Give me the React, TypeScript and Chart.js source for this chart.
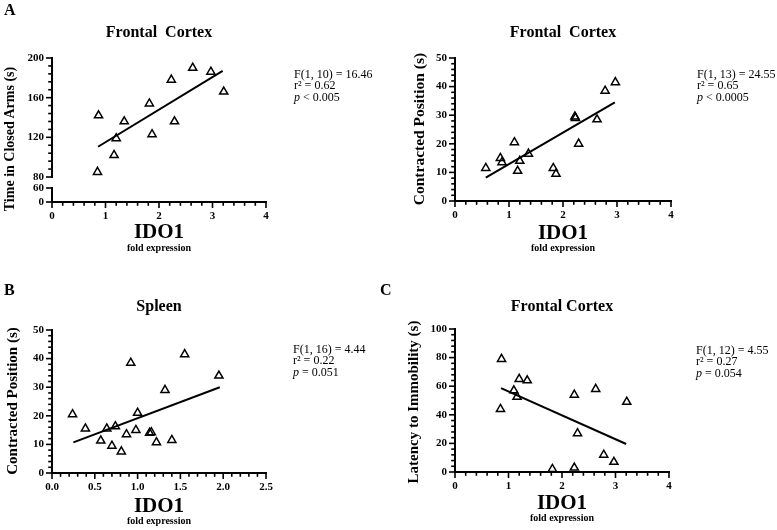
import React, { useEffect, useRef } from "react";
import { Chart, registerables } from "chart.js";

Chart.register(...registerables);

const SERIF = "'Liberation Serif', 'Times New Roman', Times, serif";

// ---------- Panel A (left): Frontal Cortex – Time in Closed Arms ----------
const closedArmsIdo1 = [0.85, 0.87, 1.2, 1.16, 1.35, 1.82, 1.87, 2.23, 2.29, 2.63, 2.97, 3.21];
const closedArmsTime = [85, 142, 119, 102, 136, 154, 123, 178, 136, 190, 186, 166];
const closedArmsFitX = [0.86, 3.19];
const closedArmsFitY = [110.5, 187];
const closedArmsStats = ["F(1, 10) = 16.46", "0.62", "< 0.005"];

// ---------- Panel A (right): Frontal Cortex – Contracted Position ----------
const contractedFcIdo1 = [0.57, 0.84, 0.87, 1.1, 1.16, 1.2, 1.36, 1.82, 1.87, 2.22, 2.23, 2.29, 2.63, 2.78, 2.97];
const contractedFcTime = [11.5, 15, 13.5, 20.5, 10.5, 14, 16.5, 11.5, 9.5, 29.5, 29, 20, 28.5, 38.5, 41.5];
const contractedFcFitX = [0.57, 2.96];
const contractedFcFitY = [8.2, 34.5];
const contractedFcStats = ["F(1, 13) = 24.55", "0.65", "< 0.0005"];

// ---------- Panel B: Spleen – Contracted Position ----------
const spleenIdo1 = [0.24, 0.39, 0.57, 0.64, 0.7, 0.74, 0.81, 0.87, 0.92, 0.98, 1.0, 1.14, 1.16, 1.22, 1.32, 1.4, 1.55, 1.95];
const spleenTime = [20.5, 15.5, 11.3, 15.5, 9.5, 16.3, 7.5, 13.5, 38.5, 15, 21, 14, 14.2, 10.7, 29, 11.5, 41.5, 34];
const spleenFitX = [0.25, 1.96];
const spleenFitY = [10.7, 30];
const spleenStats = ["F(1, 16) = 4.44", "0.22", "= 0.051"];

// ---------- Panel C: Frontal Cortex – Latency to Immobility ----------
const latencyIdo1 = [0.85, 0.87, 1.1, 1.16, 1.2, 1.35, 1.82, 2.23, 2.23, 2.29, 2.63, 2.78, 2.97, 3.21];
const latencyTime = [44, 79, 57, 52.5, 65, 64, 2, 54, 3, 27, 58, 12, 7, 49];
const latencyFitX = [0.86, 3.2];
const latencyFitY = [58.7, 19.6];
const latencyStats = ["F(1, 12) = 4.55", "0.27", "= 0.054"];

// ---------- tick labels (major ticks) ----------
const xMajors04 = [0, 1, 2, 3, 4];
const xMajorsSpleen = [0, 0.5, 1, 1.5, 2, 2.5];
const yMajorsClosedUpper = [80, 120, 160, 200];
const yMajorsClosedLower = [0, 60];
const yMajors50 = [0, 10, 20, 30, 40, 50];
const yMajors100 = [0, 20, 40, 60, 80, 100];

type YAxisCfg = {
  id: string;
  size: number;
  hidden?: boolean;
  min?: number;
  max?: number;
  step?: number;
  majors?: number[];
};

type PanelCfg = {
  left: number; top: number; width: number; height: number;
  L: number; R: number; T: number; B: number;
  title: string; titleY: number; idoY: number; foldY: number;
  xs: number[]; ys: number[]; fitX: number[]; fitY: number[];
  xMax: number; xStep: number; xMajors: number[]; xDec: number;
  yAxes: YAxisCfg[];
};

const TITLE_LH = 16 * 1.2;
const IDO_SIZE = 21;
const IDO_LH = IDO_SIZE * 0.85;
const FOLD_LH = 10 * 1.2;
const MAJOR_LEN = 5;
const MINOR_LEN = 2.8;

const nearAny = (v: number, list: number[]) => list.some((t) => Math.abs(t - v) < 1e-6);

function tickOpts(step: number, majors: number[], fmt: (v: number) => string) {
  return {
    border: { display: false },
    grid: { display: false, drawTicks: false, drawOnChartArea: false },
    ticks: {
      stepSize: step,
      maxTicksLimit: 1000,
      autoSkip: false,
      maxRotation: 0,
      minRotation: 0,
      padding: 8,
      color: "#000",
      font: { family: SERIF, size: 11, weight: "bold" },
      callback: (v: any) => (nearAny(Number(v), majors) ? fmt(Number(v)) : ""),
    },
  };
}

// draws axis lines + major/minor tick marks from the chart's own scales
function makeAxisPlugin(majorsById: Record<string, number[]>) {
  return {
    id: "axisLines",
    afterDatasetsDraw(chart: any) {
      const ctx = chart.ctx;
      ctx.save();
      ctx.strokeStyle = "#000";
      ctx.setLineDash([]);
      Object.keys(majorsById).forEach((id) => {
        const s = chart.scales[id];
        if (!s) return;
        const majors = majorsById[id];
        const horizontal = s.isHorizontal();
        // axis line
        ctx.lineWidth = 2;
        ctx.beginPath();
        if (horizontal) {
          ctx.moveTo(s.left - 1, s.top);
          ctx.lineTo(s.right + 1, s.top);
        } else {
          ctx.moveTo(s.right, s.top - 1);
          ctx.lineTo(s.right, s.bottom + 1);
        }
        ctx.stroke();
        // ticks
        ctx.lineWidth = 1.6;
        s.ticks.forEach((t: any) => {
          const p = s.getPixelForValue(t.value);
          const len = (nearAny(t.value, majors) ? MAJOR_LEN : MINOR_LEN) + 1;
          ctx.beginPath();
          if (horizontal) {
            ctx.moveTo(p, s.top);
            ctx.lineTo(p, s.top + len);
          } else {
            ctx.moveTo(s.right, p);
            ctx.lineTo(s.right - len, p);
          }
          ctx.stroke();
        });
      });
      ctx.restore();
    },
  };
}

function buildConfig(cfg: PanelCfg): any {
  const yW = cfg.L - cfg.left;
  const tPadTop = cfg.titleY - cfg.top - TITLE_LH / 2;
  const tPadBottom = cfg.T - cfg.top - tPadTop - TITLE_LH;
  const xH = cfg.idoY + IDO_LH / 2 - cfg.B;
  const foldPadTop = cfg.foldY - FOLD_LH / 2 - (cfg.B + xH);
  const layoutBottom = Math.max(0, cfg.top + cfg.height - (cfg.foldY + FOLD_LH / 2));

  const majorsById: Record<string, number[]> = { x: cfg.xMajors };

  const scales: any = {
    x: {
      type: "linear",
      position: "bottom",
      min: 0,
      max: cfg.xMax,
      weight: 0,
      ...tickOpts(cfg.xStep, cfg.xMajors, (v) => v.toFixed(cfg.xDec)),
      title: {
        display: true,
        text: "IDO1",
        color: "#000",
        font: { family: SERIF, size: IDO_SIZE, weight: "bold", lineHeight: 0.85 },
        padding: 0,
      },
      afterFit: (s: any) => {
        s.height = xH;
      },
    },
  };
  const n = cfg.yAxes.length;
  cfg.yAxes.forEach((a, i) => {
    if (a.hidden) {
      scales[a.id] = {
        type: "linear",
        position: "left",
        stack: "left",
        stackWeight: a.size,
        weight: n - i,
        min: 0,
        max: 1,
        ticks: { display: false },
        grid: { display: false, drawTicks: false },
        border: { display: false },
        afterFit: (s: any) => {
          s.width = yW;
        },
      };
    } else {
      majorsById[a.id] = a.majors as number[];
      scales[a.id] = {
        type: "linear",
        position: "left",
        stack: "left",
        stackWeight: a.size,
        weight: n - i,
        min: a.min,
        max: a.max,
        ...tickOpts(a.step as number, a.majors as number[], (v) => String(Math.round(v))),
        afterFit: (s: any) => {
          s.width = yW;
        },
      };
    }
  });

  const yId = cfg.yAxes[0].id;
  const pts = cfg.xs.map((x, i) => ({ x, y: cfg.ys[i] }));
  const fit = cfg.fitX.map((x, i) => ({ x, y: cfg.fitY[i] }));

  return {
    type: "scatter",
    data: {
      datasets: [
        {
          data: pts,
          xAxisID: "x",
          yAxisID: yId,
          pointStyle: "triangle",
          pointRadius: 4.7,
          pointHoverRadius: 4.7,
          pointBorderWidth: 1.5,
          borderColor: "#000",
          backgroundColor: "rgba(0,0,0,0)",
          showLine: false,
          clip: false,
        },
        {
          data: fit,
          xAxisID: "x",
          yAxisID: yId,
          showLine: true,
          borderColor: "#000",
          borderWidth: 2,
          pointRadius: 0,
          pointHoverRadius: 0,
          fill: false,
          clip: false,
        },
      ],
    },
    options: {
      animation: false,
      responsive: false,
      maintainAspectRatio: false,
      events: [],
      layout: {
        padding: { top: 0, left: 0, right: cfg.left + cfg.width - cfg.R, bottom: layoutBottom },
      },
      scales,
      plugins: {
        legend: { display: false },
        tooltip: { enabled: false },
        title: {
          display: true,
          text: cfg.title,
          position: "top",
          fullSize: false,
          color: "#000",
          font: { family: SERIF, size: 16, weight: "bold", lineHeight: 1.2 },
          padding: { top: tPadTop, bottom: tPadBottom },
        },
        subtitle: {
          display: true,
          text: "fold expression",
          position: "bottom",
          fullSize: false,
          color: "#000",
          font: { family: SERIF, size: 10, weight: "bold", lineHeight: 1.2 },
          padding: { top: foldPadTop, bottom: 0 },
        },
      },
    },
    plugins: [makeAxisPlugin(majorsById)],
  };
}

const panels: PanelCfg[] = [
  {
    left: 0, top: 0, width: 290, height: 262,
    L: 52, R: 266, T: 58, B: 202,
    title: "Frontal  Cortex", titleY: 33, idoY: 233, foldY: 248,
    xs: closedArmsIdo1, ys: closedArmsTime, fitX: closedArmsFitX, fitY: closedArmsFitY,
    xMax: 4, xStep: 0.2, xMajors: xMajors04, xDec: 0,
    yAxes: [
      { id: "yTop", size: 119, min: 80, max: 200, step: 8, majors: yMajorsClosedUpper },
      { id: "yGap", size: 11, hidden: true },
      { id: "yLow", size: 14, min: 0, max: 60, step: 60, majors: yMajorsClosedLower },
    ],
  },
  {
    left: 400, top: 0, width: 290, height: 262,
    L: 455, R: 671, T: 58, B: 201,
    title: "Frontal  Cortex", titleY: 33, idoY: 234, foldY: 248,
    xs: contractedFcIdo1, ys: contractedFcTime, fitX: contractedFcFitX, fitY: contractedFcFitY,
    xMax: 4, xStep: 0.2, xMajors: xMajors04, xDec: 0,
    yAxes: [{ id: "y", size: 1, min: 0, max: 50, step: 2, majors: yMajors50 }],
  },
  {
    left: 0, top: 270, width: 290, height: 260,
    L: 52, R: 266, T: 330, B: 473,
    title: "Spleen", titleY: 307, idoY: 507, foldY: 521,
    xs: spleenIdo1, ys: spleenTime, fitX: spleenFitX, fitY: spleenFitY,
    xMax: 2.5, xStep: 0.1, xMajors: xMajorsSpleen, xDec: 1,
    yAxes: [{ id: "y", size: 1, min: 0, max: 50, step: 2, majors: yMajors50 }],
  },
  {
    left: 400, top: 270, width: 290, height: 260,
    L: 455, R: 669, T: 329, B: 472,
    title: "Frontal Cortex", titleY: 307, idoY: 504, foldY: 518,
    xs: latencyIdo1, ys: latencyTime, fitX: latencyFitX, fitY: latencyFitY,
    xMax: 4, xStep: 0.2, xMajors: xMajors04, xDec: 0,
    yAxes: [{ id: "y", size: 1, min: 0, max: 100, step: 4, majors: yMajors100 }],
  },
];

const yTitles = [
  { text: "Time in Closed Arms (s)", x: 9.5, y: 138.5, size: 14 },
  { text: "Contracted Position (s)", x: 418.5, y: 128.5, size: 15.5 },
  { text: "Contracted Position (s)", x: 11.5, y: 401, size: 15 },
  { text: "Latency to Immobility (s)", x: 412.5, y: 401.5, size: 15 },
];

const statsBlocks = [
  { lines: closedArmsStats, x: 294, y: 69 },
  { lines: contractedFcStats, x: 697, y: 69 },
  { lines: spleenStats, x: 293, y: 343.5 },
  { lines: latencyStats, x: 696, y: 345 },
];

const letters = [
  { t: "A", x: 4, y: 2 },
  { t: "B", x: 4, y: 282 },
  { t: "C", x: 380, y: 282 },
];

function ScatterPanel({ cfg }: { cfg: PanelCfg }) {
  const ref = useRef<HTMLCanvasElement | null>(null);
  useEffect(() => {
    const canvas = ref.current;
    if (!canvas) return;
    const chart = new Chart(canvas, buildConfig(cfg));
    return () => chart.destroy();
  }, [cfg]);
  return (
    <canvas
      ref={ref}
      width={cfg.width}
      height={cfg.height}
      style={{ position: "absolute", left: cfg.left, top: cfg.top, width: cfg.width, height: cfg.height, display: "block" }}
    />
  );
}

export default function App() {
  return (
    <div
      style={{
        position: "absolute",
        left: 0,
        top: 0,
        width: 777,
        height: 530,
        background: "#fff",
        overflow: "hidden",
        color: "#000",
      }}
    >
      {panels.map((p, i) => (
        <ScatterPanel key={i} cfg={p} />
      ))}
      {yTitles.map((t, i) => (
        <div
          key={"yt" + i}
          style={{
            position: "absolute",
            left: t.x,
            top: t.y,
            transform: "translate(-50%, -50%) rotate(-90deg)",
            whiteSpace: "nowrap",
            font: `bold ${t.size}px ${SERIF}`,
            lineHeight: "1",
          }}
        >
          {t.text}
        </div>
      ))}
      {statsBlocks.map((s, i) => (
        <div
          key={"st" + i}
          style={{
            position: "absolute",
            left: s.x,
            top: s.y,
            font: `12px ${SERIF}`,
            lineHeight: "11.3px",
            whiteSpace: "nowrap",
            willChange: "transform",
          }}
        >
          <div>{s.lines[0]}</div>
          <div>r² = {s.lines[1]}</div>
          <div>
            <i>p</i> {s.lines[2]}
          </div>
        </div>
      ))}
      {letters.map((l, i) => (
        <div
          key={"lt" + i}
          style={{ position: "absolute", left: l.x, top: l.y, font: `bold 16px ${SERIF}`, lineHeight: "16px" }}
        >
          {l.t}
        </div>
      ))}
    </div>
  );
}
